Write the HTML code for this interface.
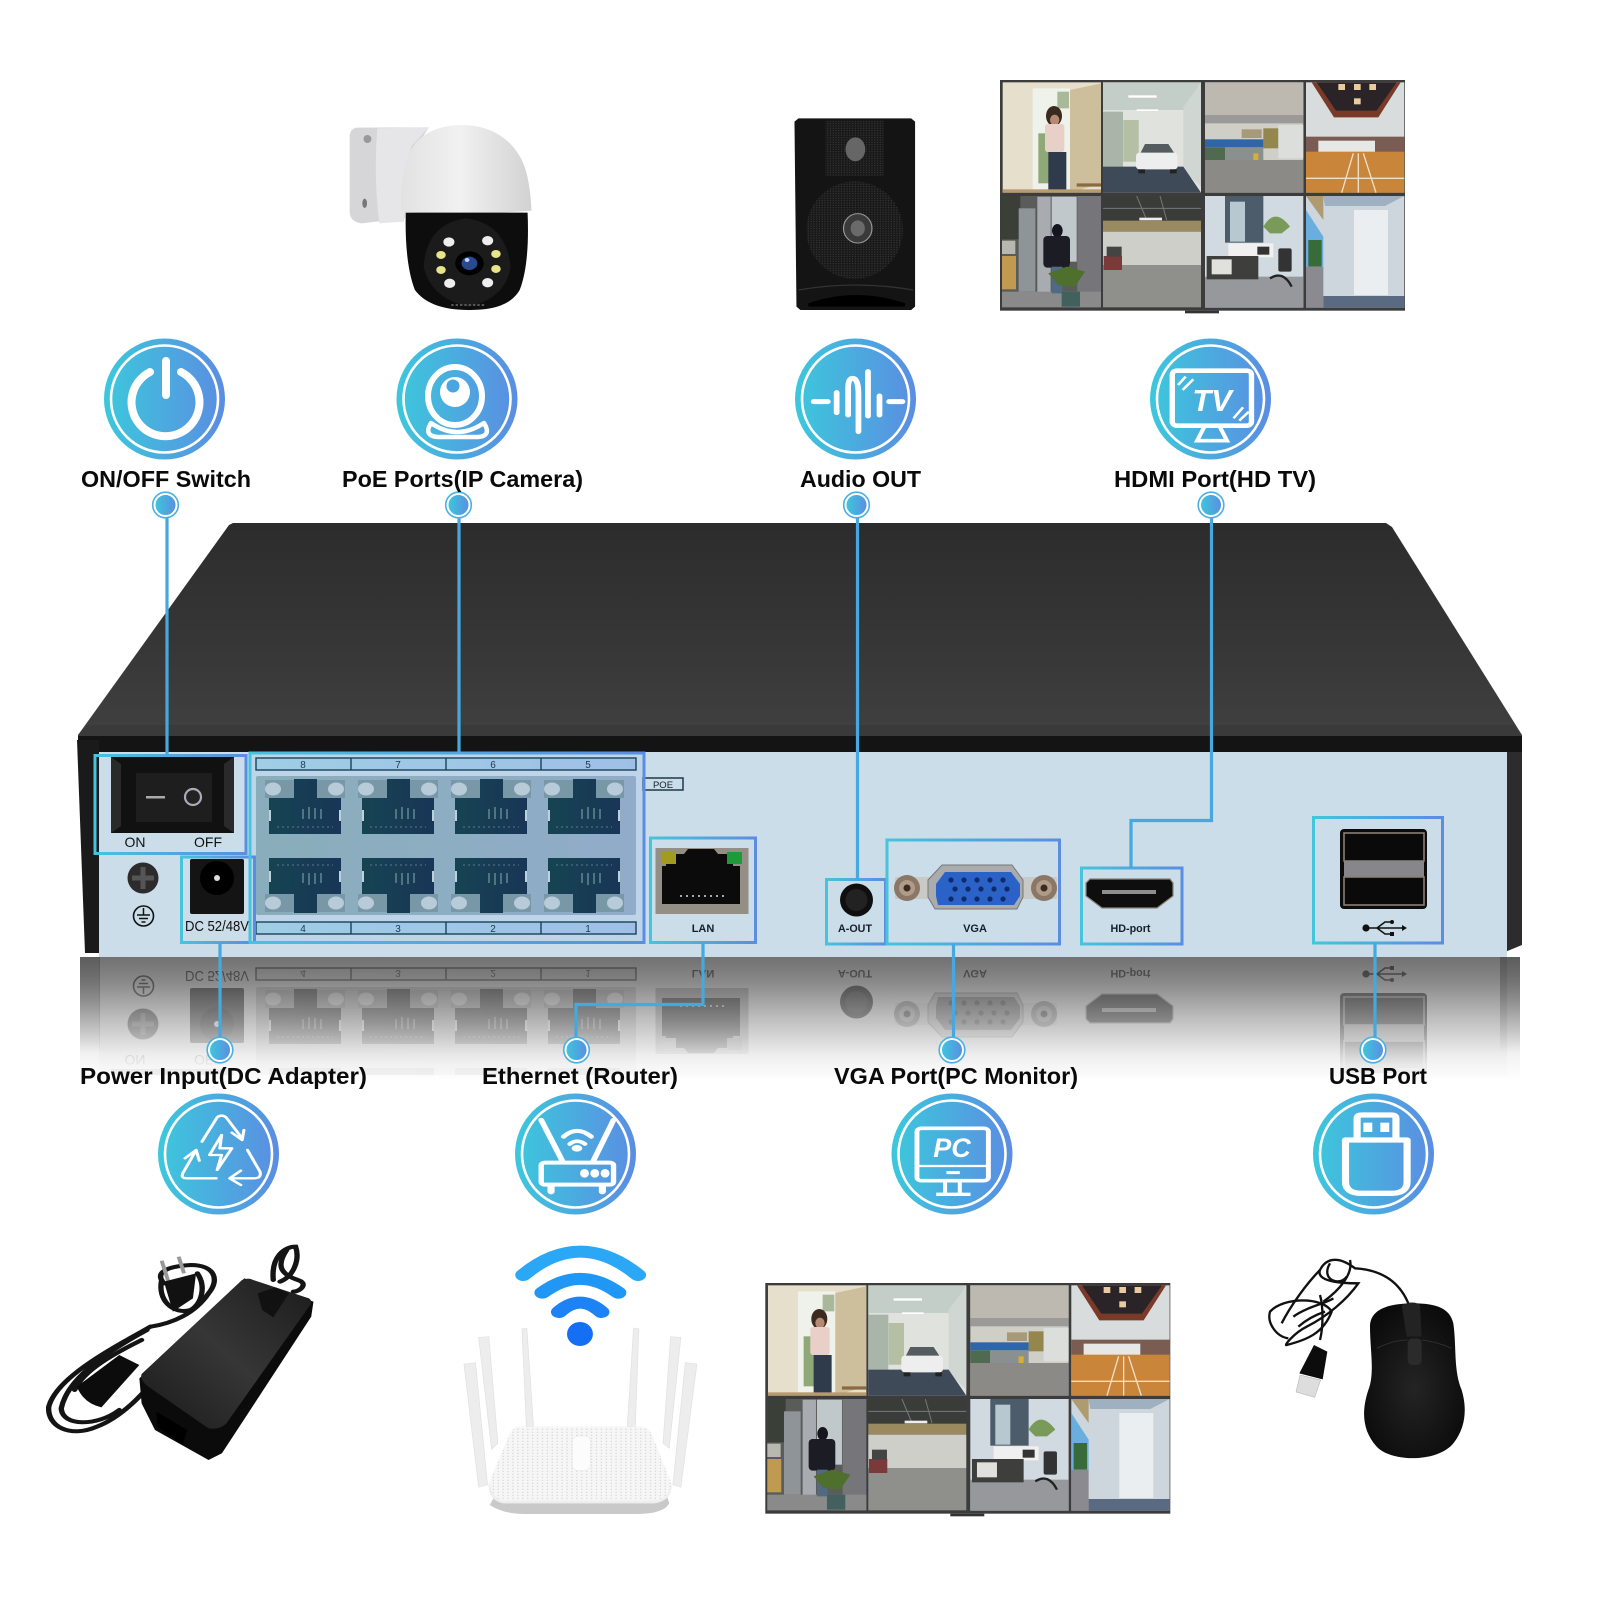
<!DOCTYPE html>
<html lang="en"><head><meta charset="utf-8"><title>NVR connection diagram</title>
<style>html,body{margin:0;padding:0;background:#fff}svg{display:block}
text{font-family:"Liberation Sans",sans-serif}
.lb{font-size:23.5px;font-weight:700;fill:#0a0a0a}
.sm{font-size:11px;font-weight:700;fill:#15202a;text-anchor:middle}
.dg{font-size:10px;fill:#15303f;text-anchor:middle}
</style></head><body>
<svg xmlns="http://www.w3.org/2000/svg" width="1600" height="1600" viewBox="0 0 1600 1600">
<defs>
<linearGradient id="ic" x1="0" y1="0" x2="1" y2="0"><stop offset="0" stop-color="#3cc8dc"/><stop offset="1" stop-color="#5b8de2"/></linearGradient>
<linearGradient id="bx" x1="0" y1="0" x2="1" y2="0"><stop offset="0" stop-color="#45c4dc"/><stop offset="1" stop-color="#5b8de0"/></linearGradient>
<linearGradient id="top" x1="0" y1="0" x2="0" y2="1"><stop offset="0" stop-color="#2c2c2c"/><stop offset=".6" stop-color="#383838"/><stop offset="1" stop-color="#424242"/></linearGradient>
<linearGradient id="metal" x1="0" y1="0" x2="1" y2="0"><stop offset="0" stop-color="#8fb2b6"/><stop offset="1" stop-color="#98b0c8"/></linearGradient>
<linearGradient id="strip" x1="0" y1="0" x2="1" y2="0"><stop offset="0" stop-color="#a8d6e6"/><stop offset="1" stop-color="#a8c6e8"/></linearGradient>
<linearGradient id="portc" x1="0" y1="0" x2="1" y2="0"><stop offset="0" stop-color="#0f3c42"/><stop offset="1" stop-color="#112c48"/></linearGradient>
<linearGradient id="refl" x1="0" y1="0" x2="0" y2="1"><stop offset="0" stop-color="#7c7c7c"/><stop offset=".2" stop-color="#949494"/><stop offset=".5" stop-color="#cacaca"/><stop offset=".78" stop-color="#f2f2f2"/><stop offset="1" stop-color="#fff"/></linearGradient>
<linearGradient id="side" x1="0" y1="0" x2="0" y2="1"><stop offset="0" stop-color="#444" stop-opacity=".55"/><stop offset="1" stop-color="#444" stop-opacity="0"/></linearGradient>
<linearGradient id="rm" gradientUnits="userSpaceOnUse" x1="0" y1="957" x2="0" y2="1065"><stop offset="0" stop-color="#fff" stop-opacity=".6"/><stop offset=".6" stop-color="#fff" stop-opacity=".35"/><stop offset="1" stop-color="#fff" stop-opacity=".06"/></linearGradient>
<mask id="rmask" maskUnits="userSpaceOnUse" x="0" y="955" width="1600" height="120"><rect x="0" y="955" width="1600" height="120" fill="url(#rm)"/></mask>
<linearGradient id="dome" x1="0" y1="0" x2="1" y2="0"><stop offset="0" stop-color="#e2e2e2"/><stop offset=".45" stop-color="#f1f1f1"/><stop offset="1" stop-color="#d2d2d2"/></linearGradient>
<linearGradient id="adp" x1="0" y1="1" x2="1" y2="0"><stop offset="0" stop-color="#1a1a1a"/><stop offset=".5" stop-color="#363636"/><stop offset="1" stop-color="#1c1c1c"/></linearGradient>
<radialGradient id="mou" cx=".5" cy=".55" r=".6"><stop offset="0" stop-color="#242424"/><stop offset="1" stop-color="#0a0a0a"/></radialGradient>
<pattern id="mesh" width="7" height="7" patternUnits="userSpaceOnUse"><rect width="7" height="7" fill="#191919"/><circle cx="3" cy="3" r="1.6" fill="#3e3e3e"/></pattern>
<pattern id="rdots" width="11" height="9" patternUnits="userSpaceOnUse"><rect width="11" height="9" fill="#f6f6f6"/><circle cx="4" cy="4" r="1.7" fill="#d2d2d2"/></pattern>
<g id="port">
  <path d="M0 19H25V0H48V19H72V55H0Z" fill="url(#portc)"/>
  <path d="M8 48H64" stroke="#5a7a80" stroke-width="1" stroke-dasharray="2 3"/>
  <path d="M34 40V30M40 40V28M46 40V29M52 40V30" stroke="#4d7478" stroke-width="2"/>
  <rect x="0" y="31" width="2" height="11" fill="#c9d8dc"/><rect x="70" y="31" width="2" height="11" fill="#c9d8dc"/>
  <path d="M-4 1H25V19H-4ZM48 1H76V19H48Z" fill="#7c9aa2"/>
  <ellipse cx="4" cy="10" rx="8" ry="6.5" fill="#c3d3d8"/><ellipse cx="67" cy="10" rx="8" ry="6.5" fill="#c3d3d8"/>
</g>
<g id="monitor">
  <rect x="60" y="30" width="1215" height="692" fill="#3c3c3c"/>
  <rect x="615" y="722" width="102" height="8" fill="#333"/>
  <!-- c1 -->
  <rect x="68" y="37" width="295" height="331" fill="#e6dfcc"/>
  <rect x="158" y="55" width="112" height="305" fill="#eef2ea"/>
  <rect x="175" y="190" width="35" height="150" fill="#8fa878"/>
  <rect x="232" y="65" width="35" height="50" fill="#a8b898"/>
  <path d="M270 60L363 40V340L270 368Z" fill="#cdbf9c"/>
  <path d="M290 340H363V350H290Z" fill="#8a6a40"/>
  <ellipse cx="222" cy="138" rx="24" ry="30" fill="#3a2a20"/>
  <ellipse cx="224" cy="150" rx="14" ry="16" fill="#b58a70"/>
  <rect x="195" y="162" width="58" height="84" rx="8" fill="#e8cfc8"/>
  <rect x="205" y="246" width="54" height="118" fill="#2f3a4a"/>
  <rect x="68" y="358" width="295" height="10" fill="#b89a70"/>
  <!-- c2 -->
  <rect x="369" y="37" width="294" height="331" fill="#dfe2dd"/>
  <path d="M369 37H663L610 120H369Z" fill="#c3cec9"/>
  <path d="M610 110L663 40V350L610 300Z" fill="#d0d6d2"/>
  <rect x="369" y="125" width="60" height="165" fill="#a9b5a9"/>
  <rect x="430" y="150" width="46" height="125" fill="#b4bfa4"/>
  <path d="M369 290H610L663 368H369Z" fill="#3f4a58"/>
  <rect x="445" y="76" width="85" height="7" fill="#fff"/><rect x="470" y="118" width="65" height="5" fill="#fff"/>
  <rect x="468" y="248" width="125" height="50" rx="10" fill="#eeeeee"/>
  <path d="M482 248L495 222H565L582 248Z" fill="#555c60"/>
  <rect x="475" y="298" width="20" height="12" fill="#222"/><rect x="570" y="298" width="20" height="12" fill="#222"/>
  <!-- c3 -->
  <rect x="675" y="37" width="295" height="331" fill="#cfcfc8"/>
  <rect x="675" y="37" width="295" height="100" fill="#bdb8b0"/>
  <rect x="675" y="135" width="295" height="25" fill="#9a9a98"/>
  <rect x="850" y="175" width="45" height="60" fill="#94864c"/>
  <rect x="785" y="178" width="60" height="26" fill="#a89a78"/>
  <rect x="675" y="208" width="175" height="24" fill="#2f66a8"/>
  <rect x="675" y="232" width="60" height="40" fill="#4f6a50"/><rect x="735" y="232" width="115" height="40" fill="#8a8f90"/>
  <rect x="820" y="250" width="15" height="22" fill="#d8b030"/>
  <rect x="895" y="165" width="75" height="100" fill="#dcdedc"/>
  <rect x="675" y="270" width="295" height="98" fill="#8c8a86"/>
  <!-- c4 -->
  <rect x="978" y="37" width="295" height="331" fill="#d8dcdc"/>
  <path d="M995 37H1262L1195 142H1062Z" fill="#7a3a28"/>
  <path d="M1010 37H1250L1190 122H1068Z" fill="#2a2428"/>
  <g fill="#e8ccA0"><rect x="1075" y="42" width="20" height="18"/><rect x="1122" y="42" width="20" height="18"/><rect x="1168" y="42" width="20" height="18"/><rect x="1122" y="85" width="20" height="18"/></g>
  <rect x="978" y="200" width="295" height="48" fill="#7a5c52"/>
  <rect x="1015" y="212" width="170" height="36" fill="#e6e8e8"/>
  <rect x="978" y="245" width="295" height="123" fill="#c9853a"/>
  <path d="M978 325H1273M1135 250V368M1120 250L1085 368M1150 250L1188 368" stroke="#eee0c8" stroke-width="4"/>
  <!-- c5 -->
  <rect x="66" y="378" width="297" height="334" fill="#5a5c5a"/>
  <rect x="66" y="378" width="55" height="130" fill="#3a3f38"/>
  <rect x="66" y="512" width="40" height="40" fill="#b8b8b0"/>
  <rect x="66" y="558" width="42" height="100" fill="#c09a50"/>
  <rect x="116" y="415" width="50" height="250" fill="#8e9498"/>
  <rect x="172" y="380" width="40" height="300" fill="#a8acb0"/>
  <rect x="215" y="380" width="75" height="195" fill="#c0c8cc"/>
  <rect x="292" y="378" width="71" height="334" fill="#76767a"/>
  <rect x="66" y="665" width="297" height="47" fill="#8a8a8a"/>
  <ellipse cx="232" cy="482" rx="16" ry="20" fill="#151520"/>
  <rect x="190" y="498" width="80" height="95" rx="12" fill="#1c1c24"/>
  <rect x="215" y="590" width="32" height="80" fill="#506a84"/>
  <path d="M205 610L260 590L315 605L285 650L235 645Z" fill="#4f6f2c"/>
  <rect x="245" y="665" width="55" height="45" fill="#41605e"/>
  <!-- c6 -->
  <rect x="369" y="378" width="294" height="75" fill="#3a3c3a"/>
  <path d="M369 415H663M470 378L500 450M540 378L560 450" stroke="#777" stroke-width="3"/>
  <rect x="478" y="443" width="68" height="8" fill="#eee"/>
  <rect x="369" y="452" width="294" height="33" fill="#9a8a60"/>
  <rect x="369" y="485" width="294" height="100" fill="#cfcfca"/>
  <rect x="369" y="585" width="294" height="127" fill="#8f8f8c"/>
  <rect x="371" y="558" width="55" height="42" fill="#7a3a3a"/>
  <rect x="380" y="530" width="45" height="30" fill="#444"/>
  <!-- c7 -->
  <rect x="675" y="378" width="295" height="335" fill="#d0dae0"/>
  <rect x="735" y="378" width="115" height="140" fill="#4d5c6a"/>
  <rect x="750" y="395" width="45" height="120" fill="#b8c8d0"/>
  <path d="M850 470Q885 410 930 470L905 490H870Z" fill="#7a9a5a"/>
  <rect x="675" y="620" width="295" height="93" fill="#96989c"/>
  <rect x="745" y="520" width="135" height="42" fill="#f0f0f0"/>
  <rect x="680" y="558" width="155" height="70" fill="#3e3e3c"/>
  <rect x="695" y="568" width="60" height="45" fill="#e0e0dc"/>
  <rect x="832" y="530" width="36" height="24" fill="#333"/>
  <rect x="895" y="535" width="40" height="70" rx="6" fill="#333"/>
  <path d="M870 625Q910 600 935 650" stroke="#222" stroke-width="7" fill="none"/>
  <!-- c8 -->
  <rect x="978" y="378" width="295" height="335" fill="#cdd6dc"/>
  <path d="M1030 378H1273L1215 408H1035Z" fill="#9fb0c0"/>
  <path d="M978 378H1030V450Z" fill="#b09a70"/>
  <path d="M978 420L1030 500V590H978Z" fill="#6aaee0"/>
  <rect x="985" y="510" width="40" height="80" fill="#386a3a"/>
  <rect x="978" y="590" width="52" height="123" fill="#8a8a90"/>
  <rect x="1122" y="420" width="102" height="255" fill="#eaeef0"/>
  <rect x="1030" y="678" width="243" height="35" fill="#5a6a80"/>
</g>
<g id="nvrpanel">
  <rect x="99" y="752" width="1408" height="205" fill="#cadde9"/>
  <!-- switch -->
  <rect x="111" y="757" width="123" height="76" fill="#2a2a2a"/>
  <path d="M111 757H234L224 764V826L234 833H111L121 826V764Z" fill="#111"/>
  <rect x="136" y="773" width="76" height="49" fill="#1e1e1e"/>
  <rect x="146" y="796" width="19" height="2.5" fill="#aaa"/>
  <circle cx="193" cy="797" r="8" fill="#222" stroke="#aab" stroke-width="2.2"/>
  <text x="135" y="847" font-size="14" text-anchor="middle" fill="#111">ON</text>
  <text x="208" y="847" font-size="14" text-anchor="middle" fill="#111">OFF</text>
  <!-- screw / ground -->
  <circle cx="143" cy="878" r="15.5" fill="#2c2c2c"/>
  <path d="M143 867V889M132 878H154" stroke="#555" stroke-width="5"/>
  <circle cx="143.5" cy="916" r="10" fill="none" stroke="#111" stroke-width="1.6"/>
  <path d="M143.5 908V915M137 915H150M139 918.5H148M141.5 922H145.5" stroke="#111" stroke-width="1.5"/>
  <!-- DC -->
  <rect x="190" y="859" width="54" height="55" rx="2" fill="#141414"/>
  <circle cx="217" cy="878" r="17" fill="#000"/><circle cx="217" cy="878" r="3" fill="#ddd"/>
  <text x="185" y="931" font-size="15" fill="#111" textLength="64" lengthAdjust="spacingAndGlyphs">DC 52/48V</text>
  <!-- poe -->
  <rect x="256" y="776" width="380" height="139" rx="2" fill="url(#metal)"/>
  <rect x="256" y="758" width="380" height="12" fill="url(#strip)" stroke="#123a4c" stroke-width="1.4"/>
  <rect x="256" y="922" width="380" height="12" fill="url(#strip)" stroke="#123a4c" stroke-width="1.4"/>
  <path d="M351 758V770M446 758V770M541 758V770M351 922V934M446 922V934M541 922V934" stroke="#123a4c" stroke-width="1.4"/>
  <text class="dg" x="303" y="768">8</text><text class="dg" x="398" y="768">7</text><text class="dg" x="493" y="768">6</text><text class="dg" x="588" y="768">5</text>
  <text class="dg" x="303" y="932">4</text><text class="dg" x="398" y="932">3</text><text class="dg" x="493" y="932">2</text><text class="dg" x="588" y="932">1</text>
  <use href="#port" transform="translate(269,779)"/><use href="#port" transform="translate(362,779)"/><use href="#port" transform="translate(455,779)"/><use href="#port" transform="translate(548,779)"/>
  <use href="#port" transform="translate(269,913) scale(1,-1)"/><use href="#port" transform="translate(362,913) scale(1,-1)"/><use href="#port" transform="translate(455,913) scale(1,-1)"/><use href="#port" transform="translate(548,913) scale(1,-1)"/>
  <rect x="643" y="778" width="40" height="12" fill="#cadde9" stroke="#1d3a48" stroke-width="1.5"/>
  <text x="663" y="788" font-size="9.5" text-anchor="middle" fill="#15202a">POE</text>
  <!-- LAN -->
  <rect x="655.5" y="848" width="93" height="66" fill="#938f84"/>
  <path d="M666 866V854H684L688 849H714L718 854H733V866H740V904H662V866Z" fill="#0b0b0b"/>
  <rect x="661" y="852" width="15" height="12" fill="#a39a20"/><rect x="727" y="852" width="15" height="12" fill="#1f9a3a"/>
  <path d="M680 896H725" stroke="#ddd" stroke-width="1.4" stroke-dasharray="2 4"/>
  <text class="sm" x="703" y="932">LAN</text>
  <!-- AOUT -->
  <circle cx="856.5" cy="900" r="16.5" fill="#0f0f0f"/><circle cx="856.5" cy="900" r="11" fill="#222"/>
  <text class="sm" x="855" y="932" textLength="34" lengthAdjust="spacingAndGlyphs">A-OUT</text>
  <!-- VGA -->
  <rect x="895" y="877" width="162" height="22" fill="#c9c9c6"/>
  <circle cx="907" cy="888" r="13" fill="#8a7766"/><circle cx="907" cy="888" r="8" fill="#b09a88"/><circle cx="907" cy="888" r="3.5" fill="#3a2a20"/>
  <circle cx="1044" cy="888" r="13" fill="#8a7766"/><circle cx="1044" cy="888" r="8" fill="#b09a88"/><circle cx="1044" cy="888" r="3.5" fill="#3a2a20"/>
  <path d="M942 865H1012L1023 880V897L1017 909H935L928 897V880Z" fill="#a9abad" stroke="#777" stroke-width="1"/>
  <path d="M945 872H1011L1020 884V896L1014 905H938L936 896V884Z" fill="#2b62c8"/>
  <g fill="#0e2a6a"><circle cx="951" cy="880" r="2.6"/><circle cx="964" cy="880" r="2.6"/><circle cx="977" cy="880" r="2.6"/><circle cx="990" cy="880" r="2.6"/><circle cx="1003" cy="880" r="2.6"/>
  <circle cx="955" cy="889" r="2.6"/><circle cx="968" cy="889" r="2.6"/><circle cx="981" cy="889" r="2.6"/><circle cx="994" cy="889" r="2.6"/><circle cx="1007" cy="889" r="2.6"/>
  <circle cx="951" cy="899" r="2.6"/><circle cx="964" cy="899" r="2.6"/><circle cx="977" cy="899" r="2.6"/><circle cx="990" cy="899" r="2.6"/><circle cx="1003" cy="899" r="2.6"/></g>
  <text class="sm" x="975" y="932">VGA</text>
  <!-- HDMI -->
  <path d="M1090 879H1170L1173 883V896L1157 908H1102L1086 896V883Z" fill="#0e0e0e" stroke="#8a8478" stroke-width="1.2"/>
  <rect x="1102" y="890" width="54" height="4" fill="#8e8e8e"/>
  <text class="sm" x="1130.5" y="932" textLength="40" lengthAdjust="spacingAndGlyphs">HD-port</text>
  <!-- USB -->
  <rect x="1340" y="829" width="87" height="80" rx="4" fill="#0c0c0c"/>
  <rect x="1344" y="833" width="80" height="28" fill="#0a0a0a" stroke="#8a8074" stroke-width="1.6"/>
  <rect x="1344" y="861" width="80" height="16" fill="#87868a"/>
  <rect x="1344" y="877" width="80" height="28" fill="#0a0a0a" stroke="#8a8074" stroke-width="1.6"/>
  <g stroke="#111" stroke-width="1.6" fill="none"><path d="M1366 928H1402M1377 928L1385 922H1391M1377 928L1385 934H1391"/></g>
  <circle cx="1366" cy="928" r="3.6" fill="#111"/><path d="M1402 925L1407 928L1402 931Z" fill="#111"/><circle cx="1392" cy="922" r="2" fill="#111"/><rect x="1390" y="932" width="4" height="4" fill="#111"/>
</g>
</defs>
<rect width="1600" height="1600" fill="#fff"/>

<!-- photo: camera -->
<g transform="translate(320,90) scale(.3954,.3333)">
  <path d="M95 113L275 112L240 180L215 385L105 400Q75 395 75 365V140Q75 115 95 113Z" fill="#d6d6d8"/>
  <path d="M145 115L275 112L230 170L212 395L150 400Q135 260 145 115Z" fill="#e6e6e8"/>
  <ellipse cx="120" cy="147" rx="10" ry="12" fill="#999"/><ellipse cx="113" cy="340" rx="6" ry="14" fill="#777"/>
  <path d="M205 365C205 300 205 250 225 190C250 130 300 105 360 105C440 105 500 160 520 240C530 280 533 320 535 362Q370 378 205 365Z" fill="url(#dome)"/>
  <path d="M217 368H525C528 450 525 540 505 600C480 650 430 660 375 660C310 660 265 640 240 600C220 540 215 450 217 368Z" fill="#0d0d0d"/>
  <path d="M262 530Q270 400 370 385Q470 400 482 530Q470 625 375 650Q280 625 262 530Z" fill="#1b1b1b"/>
  <circle cx="378" cy="520" r="36" fill="#000"/><circle cx="378" cy="520" r="20" fill="#2a4a90"/><circle cx="372" cy="510" r="6" fill="#c6d4ff"/>
  <g fill="#eee"><circle cx="326" cy="456" r="14"/><circle cx="424" cy="452" r="14"/><circle cx="328" cy="580" r="14"/><circle cx="424" cy="578" r="14"/></g>
  <g fill="#e8e48a"><circle cx="306" cy="495" r="12"/><circle cx="445" cy="492" r="12"/><circle cx="306" cy="540" r="12"/><circle cx="445" cy="537" r="12"/></g>
  <path d="M332 645H420" stroke="#555" stroke-width="6" stroke-dasharray="6 5"/>
</g>
<!-- photo: speaker -->
<g transform="translate(320,90) scale(.3954,.3333)">
  <path d="M1210 85H1495L1505 95V650L1495 660H1215L1205 650L1200 95Z" fill="#141414"/>
  <rect x="1278" y="92" width="147" height="166" fill="url(#mesh)"/>
  <ellipse cx="1354" cy="178" rx="25" ry="36" fill="#666"/>
  <ellipse cx="1352" cy="420" rx="122" ry="146" fill="url(#mesh)"/>
  <ellipse cx="1360" cy="415" rx="36" ry="44" fill="#3a3a3a" stroke="#999" stroke-width="3"/>
  <ellipse cx="1360" cy="415" rx="18" ry="24" fill="#6a6a6a"/>
  <path d="M1235 640Q1355 590 1480 640V650H1235Z" fill="#000"/>
  <path d="M1210 600Q1355 570 1500 600" stroke="#333" stroke-width="4" fill="none"/>
</g>
<!-- monitors -->
<use href="#monitor" transform="translate(980,70) scale(.33333)"/>
<use href="#monitor" transform="translate(745.3,1273) scale(.33333)"/>

<!-- NVR -->
<path d="M229 525L233 523H1386L1392 527L1522 735V752H78V735Z" fill="url(#top)"/>
<path d="M87 725H1513L1522 735V752H78V735Z" fill="#3a3a3a"/>
<rect x="78" y="736" width="1444" height="17" fill="#141414"/>
<path d="M77 740H99V953H85Z" fill="#1a1a1a"/>
<path d="M1507 752H1522V945L1505 952Z" fill="#2c2c2c"/>
<!-- reflection -->
<rect x="80" y="957" width="1440" height="125" fill="url(#refl)"/>
<rect x="80" y="957" width="20" height="95" fill="url(#side)"/>
<rect x="1500" y="957" width="20" height="95" fill="url(#side)"/>
<g mask="url(#rmask)" style="mix-blend-mode:multiply;filter:grayscale(1)"><use href="#nvrpanel" transform="matrix(1 0 0 -1 0 1902)"/></g>
<use href="#nvrpanel"/>

<!-- highlight boxes -->
<g fill="none" stroke="url(#bx)" stroke-width="3">
<rect x="95" y="755.5" width="151" height="98"/>
<rect x="181.5" y="857" width="73" height="85.5"/>
<rect x="250" y="753" width="394" height="189.5" fill="#5a8ce6" fill-opacity=".1"/>
<rect x="650.5" y="838" width="105" height="104.5"/>
<rect x="826.5" y="879.5" width="59" height="64.5"/>
<rect x="887" y="840" width="172.5" height="104"/>
<rect x="1081.5" y="868" width="100.5" height="76"/>
<rect x="1313.5" y="817.5" width="129" height="125.5"/>
</g>
<!-- connectors -->
<g fill="none" stroke="#45a8df" stroke-width="3.2">
<path d="M167 515V754"/><path d="M459 515V752"/><path d="M857.5 515V879"/>
<path d="M1211.5 515V820.5H1131V868"/>
<path d="M220 943V1040"/><path d="M703 943V1004.5H576V1040"/><path d="M953.5 944V1040"/><path d="M1375 943V1040"/>
</g>
<!-- dots -->
<g stroke="#fff" stroke-width="2">
<g fill="url(#ic)">
<circle cx="165.5" cy="505" r="11"/><circle cx="458.5" cy="505" r="11"/><circle cx="856.5" cy="505" r="11"/><circle cx="1211" cy="505" r="11"/>
<circle cx="220" cy="1050" r="11"/><circle cx="576.5" cy="1050" r="11"/><circle cx="952" cy="1050" r="11"/><circle cx="1373" cy="1050" r="11"/>
</g></g>
<g fill="none" stroke="#4bb0e0" stroke-width="1.6">
<circle cx="165.5" cy="505" r="12.8"/><circle cx="458.5" cy="505" r="12.8"/><circle cx="856.5" cy="505" r="12.8"/><circle cx="1211" cy="505" r="12.8"/>
<circle cx="220" cy="1050" r="12.8"/><circle cx="576.5" cy="1050" r="12.8"/><circle cx="952" cy="1050" r="12.8"/><circle cx="1373" cy="1050" r="12.8"/>
</g>
<!-- labels -->
<text class="lb" x="81" y="487" textLength="170" lengthAdjust="spacingAndGlyphs">ON/OFF Switch</text>
<text class="lb" x="342" y="487" textLength="241" lengthAdjust="spacingAndGlyphs">PoE Ports(IP Camera)</text>
<text class="lb" x="800" y="487" textLength="121" lengthAdjust="spacingAndGlyphs">Audio OUT</text>
<text class="lb" x="1114" y="487" textLength="202" lengthAdjust="spacingAndGlyphs">HDMI Port(HD TV)</text>
<text class="lb" x="80" y="1084" textLength="287" lengthAdjust="spacingAndGlyphs">Power Input(DC Adapter)</text>
<text class="lb" x="482" y="1084" textLength="196" lengthAdjust="spacingAndGlyphs">Ethernet (Router)</text>
<text class="lb" x="834" y="1084" textLength="244" lengthAdjust="spacingAndGlyphs">VGA Port(PC Monitor)</text>
<text class="lb" x="1329" y="1084" textLength="98" lengthAdjust="spacingAndGlyphs">USB Port</text>

<!-- icon circles -->
<g fill="url(#ic)">
<circle cx="164.5" cy="399" r="60.5"/><circle cx="457" cy="399" r="60.5"/><circle cx="855.5" cy="399" r="60.5"/><circle cx="1210.5" cy="399" r="60.5"/>
<circle cx="218.5" cy="1154" r="60.5"/><circle cx="575.5" cy="1154" r="60.5"/><circle cx="952" cy="1154" r="60.5"/><circle cx="1373.5" cy="1154" r="60.5"/>
</g>
<g fill="none" stroke="#fff" stroke-width="2.6">
<circle cx="164.5" cy="399" r="53.5"/><circle cx="457" cy="399" r="53.5"/><circle cx="855.5" cy="399" r="53.5"/><circle cx="1210.5" cy="399" r="53.5"/>
<circle cx="218.5" cy="1154" r="53.5"/><circle cx="575.5" cy="1154" r="53.5"/><circle cx="952" cy="1154" r="53.5"/><circle cx="1373.5" cy="1154" r="53.5"/>
</g>
<!-- power -->
<g fill="none" stroke="#fff" stroke-width="8" stroke-linecap="round">
<path d="M150 372A34 34 0 1 0 181 372"/><path d="M166 361V395"/>
</g>
<!-- webcam -->
<g fill="none" stroke="#fff">
<ellipse cx="455" cy="396" rx="27" ry="29" stroke-width="6"/>
<path d="M431 423Q423 436 438 437H478Q492 436 484 423Q457 441 431 423Z" stroke-width="4.5" stroke-linejoin="round"/>
</g>
<circle cx="455" cy="392" r="15" fill="#fff"/><circle cx="453" cy="386" r="6.5" fill="#4aa6e0"/>
<!-- audio -->
<g transform="translate(780,330) scale(.3827,.3333)" fill="none" stroke="#fff" stroke-width="15" stroke-linecap="round">
<path d="M88 215H125M285 215H320M148 188V248M260 198V255M230 125V258M205 305V195Q205 145 190 145Q178 145 178 175V255"/>
</g>
<!-- TV -->
<g transform="translate(780,330) scale(.3827,.3333)" fill="none" stroke="#fff">
<rect x="1025" y="122" width="207" height="165" rx="12" stroke-width="14"/>
<path d="M1108 292L1090 332H1168L1150 292" stroke-width="11"/>
<path d="M1040 165L1060 140M1052 180L1080 148M1185 265L1210 232M1200 272L1225 245" stroke-width="7"/>
</g>
<text x="1212" y="411" font-size="31" font-weight="700" font-style="italic" fill="#fff" text-anchor="middle">TV</text>
<!-- recycle -->
<g transform="translate(60,1040) scale(.4464,.3333)" fill="none" stroke="#fff" stroke-width="7" stroke-linecap="round" stroke-linejoin="round">
<path d="M318 305L352 232Q362 222 372 232L408 295M385 278L408 300L412 270"/>
<path d="M305 330L275 400Q270 415 285 415H350M280 355L305 330L312 362"/>
<path d="M420 330L448 395Q452 415 435 415H385M405 392L380 415L405 435"/>
<path d="M362 285L335 345H362L352 390L385 325H358Z"/>
</g>
<!-- router -->
<g transform="translate(60,1040) scale(.4464,.3333)" fill="none" stroke="#fff" stroke-linecap="round">
<path d="M1078 240L1125 362M1240 240L1195 362" stroke-width="13"/>
<path d="M1128 290Q1158 255 1190 290" stroke-width="12"/><path d="M1142 312Q1158 295 1176 312" stroke-width="11"/>
<rect x="1078" y="368" width="162" height="66" rx="8" stroke-width="12"/>
<path d="M1100 440V455M1215 440V455" stroke-width="16"/>
</g>
<g transform="translate(60,1040) scale(.4464,.3333)" fill="#fff"><ellipse cx="1158" cy="325" rx="12" ry="10"/><ellipse cx="1175" cy="400" rx="10" ry="13"/><ellipse cx="1198" cy="400" rx="10" ry="13"/><ellipse cx="1221" cy="400" rx="10" ry="13"/></g>
<!-- PC -->
<g transform="translate(800,1040) scale(.4464,.3333)" fill="none" stroke="#fff">
<rect x="262" y="265" width="160" height="157" rx="10" stroke-width="11"/>
<path d="M262 378H422" stroke-width="7"/><path d="M328 398H358" stroke-width="9"/>
<path d="M325 425V462M358 425V462" stroke-width="9"/><path d="M305 463H382" stroke-width="10"/>
</g>
<text x="952" y="1157" font-size="27" font-weight="700" font-style="italic" fill="#fff" text-anchor="middle">PC</text>
<!-- USB -->
<g transform="translate(800,1040) scale(.4464,.3333)" fill="none" stroke="#fff" stroke-width="16" stroke-linejoin="round">
<path d="M1248 300V235Q1248 225 1258 225H1325Q1335 225 1335 235V300"/>
<path d="M1222 300H1360V425Q1360 460 1325 460H1258Q1222 460 1222 425Z"/>
</g>
<g transform="translate(800,1040) scale(.4464,.3333)" fill="#fff"><rect x="1262" y="248" width="20" height="28"/><rect x="1300" y="248" width="20" height="28"/></g>

<!-- adapter -->
<g transform="translate(30,1230) scale(.4464,.3333)">
  <g fill="none" stroke="#141414" stroke-width="12" stroke-linecap="round">
    <path d="M270 290C190 350 60 440 42 530C38 590 90 625 150 590C210 560 260 480 300 420"/>
    <path d="M262 300C180 360 85 440 70 535C72 590 150 590 200 540"/>
    <path d="M250 330C190 370 120 420 100 480"/>
    <path d="M300 160C280 130 300 110 360 105C415 105 425 150 400 190C370 250 320 280 270 290"/>
    <path d="M295 150C285 210 320 255 360 240C385 220 395 170 375 130"/>
    <path d="M545 150C540 80 570 50 595 50C605 90 590 140 560 155M575 60C555 100 555 130 600 150C625 160 605 185 590 185"/>
  </g>
  <path d="M105 470L200 375L245 405L160 532Q120 520 105 470Z" fill="#0c0c0c"/>
  <path d="M295 92L310 155M333 80L345 130" stroke="#999" stroke-width="9"/>
  <path d="M300 155L372 130L365 205L320 245Z" fill="#111"/>
  <path d="M245 445L480 145L635 215L630 260L430 670L400 690L280 600L250 520Z" fill="#0b0b0b"/>
  <path d="M250 432L475 150Q490 142 500 150L625 205Q635 215 625 230L440 580Q425 600 400 595L265 470Q245 450 250 432Z" fill="url(#adp)"/>
  <path d="M283 545L352 600L342 645L285 590Z" fill="#000"/>
  <path d="M510 190L550 172L580 190L545 262L520 240Z" fill="#111"/>
</g>
<!-- wifi & router -->
<g transform="translate(30,1230) scale(.4464,.3333)">
  <g fill="none" stroke-linecap="round">
    <path d="M1105 135Q1232 -5 1362 135" stroke="#2aa8f5" stroke-width="36"/>
    <path d="M1148 188Q1232 105 1318 188" stroke="#2096f5" stroke-width="36"/>
    <path d="M1185 246Q1232 190 1280 246" stroke="#1d82f5" stroke-width="36"/>
  </g>
  <ellipse cx="1232" cy="312" rx="29" ry="36" fill="#156ff5"/>
  <g fill="#ededed" stroke="#e0e0e0" stroke-width="1.5">
    <path d="M972 402L998 398L1025 765L1005 772Z"/><path d="M1005 322L1028 320L1048 640L1034 658Z"/>
    <path d="M1102 296L1113 294L1128 590H1112Z"/><path d="M1352 294L1364 296L1356 590H1338Z"/>
    <path d="M1435 320L1458 322L1432 655L1418 640Z"/><path d="M1468 398L1494 402L1458 772L1440 765Z"/>
  </g>
  <path d="M1040 800L1030 825Q1060 852 1110 852H1360Q1420 852 1432 820L1425 790Z" fill="#c9c9c9"/>
  <path d="M1095 590H1370Q1385 592 1392 610L1437 760Q1440 810 1400 820H1060Q1025 810 1028 760L1075 610Q1082 592 1095 590Z" fill="url(#rdots)"/>
  <path d="M1028 760Q1040 810 1060 812H1400Q1430 810 1437 760Q1440 810 1400 820H1060Q1025 810 1028 760Z" fill="#eee"/>
  <rect x="1215" y="618" width="40" height="104" rx="15" fill="#fcfcfc" stroke="#e2e2e2"/>
</g>
<!-- mouse -->
<g transform="translate(1240,1240) scale(.33333)">
  <g fill="none" stroke="#111" stroke-width="7">
    <path d="M505 190C480 130 430 90 345 85C300 50 260 50 240 90C225 130 330 130 355 130C320 180 260 230 200 260C160 280 130 320 140 315C200 300 250 280 275 215C250 170 130 170 90 215C80 250 110 290 145 295"/>
    <path d="M240 165C250 200 250 260 240 300"/>
    <path d="M240 90C200 130 150 200 125 250M330 60C340 100 300 150 250 185"/>
    <path d="M160 230C200 200 260 190 280 175M175 260C210 230 240 220 255 215M270 70C240 120 300 140 320 110"/>
  </g>
  <path d="M222 315L262 335L248 418L178 400Z" fill="#0c0c0c"/>
  <path d="M180 405L242 420L224 472L168 456Z" fill="#ddd" stroke="#888"/>
  <path d="M520 190C440 190 390 210 390 260C390 330 405 400 385 450C365 510 365 570 410 620C450 665 590 670 640 610C680 560 680 500 665 450C640 390 650 320 640 250C630 205 590 190 520 190Z" fill="url(#mou)"/>
  <path d="M485 195Q520 180 540 195L545 290H500Z" fill="#232323"/>
  <rect x="503" y="295" width="42" height="80" rx="14" fill="#2b2b2b"/>
  <path d="M410 325Q460 300 503 300M545 300Q590 305 635 325" stroke="#2e2e2e" stroke-width="3" fill="none"/>
</g>
</svg>
</body></html>
